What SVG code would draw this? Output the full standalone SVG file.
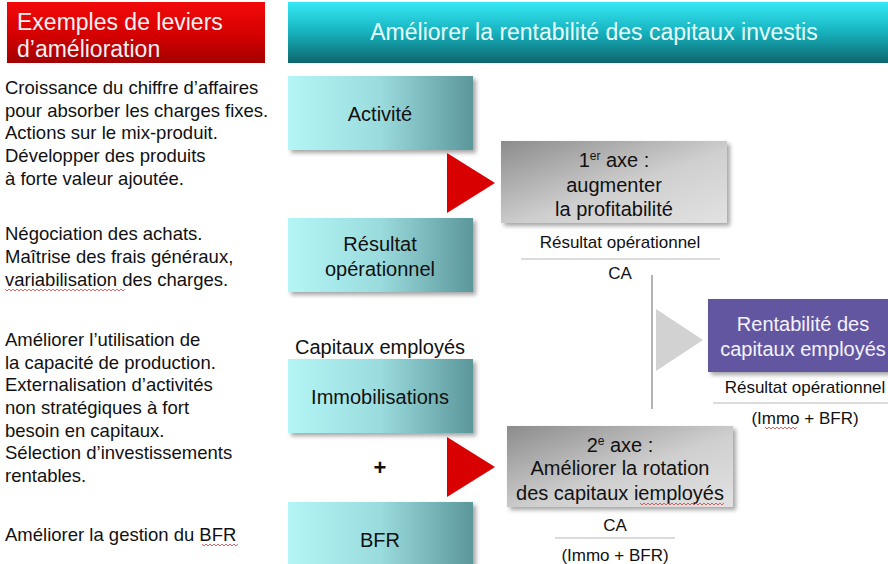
<svg xmlns="http://www.w3.org/2000/svg" width="888" height="564" viewBox="0 0 888 564">
<style>
text{font-family:"Liberation Sans",Arial,sans-serif;fill:#111}
.lv{font-size:18.5px}
.hd{font-size:23px;fill:#f2f2f2}
.hdt{font-size:23px;fill:#e6ffff}
.bx{font-size:20px;text-anchor:middle}
.sm{font-size:17px;text-anchor:middle}
.pw{font-size:20px;text-anchor:middle;fill:#f4f2ff}
.rule{stroke:#b8b8b8;stroke-width:1.2}
.wavy{fill:none;stroke:#d04040;stroke-width:0.8}
</style>
<defs>
<linearGradient id="gRed" x1="0" y1="0" x2="0" y2="1">
<stop offset="0" stop-color="#f20a0a"/><stop offset="0.55" stop-color="#d40000"/><stop offset="1" stop-color="#a30000"/>
</linearGradient>
<linearGradient id="gTealH" x1="0" y1="0" x2="0" y2="1">
<stop offset="0" stop-color="#35eaf6"/><stop offset="0.5" stop-color="#16b1bd"/><stop offset="1" stop-color="#0d666d"/>
</linearGradient>
<linearGradient id="gTeal" x1="0" y1="0" x2="1" y2="0">
<stop offset="0" stop-color="#b4f6f6"/><stop offset="0.5" stop-color="#9adbdd"/><stop offset="1" stop-color="#5b979b"/>
</linearGradient>
<linearGradient id="gGray" x1="0" y1="0" x2="1" y2="1">
<stop offset="0" stop-color="#8c8c8c"/><stop offset="0.55" stop-color="#cfcfcf"/><stop offset="1" stop-color="#e2e2e2"/>
</linearGradient>
<filter id="sh" x="-10%" y="-10%" width="125%" height="130%">
<feDropShadow dx="3" dy="3" stdDeviation="2" flood-color="#000" flood-opacity="0.35"/>
</filter>
</defs>

<g id="header-leviers">
<rect x="7" y="2" width="258" height="61" fill="url(#gRed)"/>
<text class="hd" x="17" y="30">Exemples de leviers</text>
<text class="hd" x="17" y="57">d’amélioration</text>
</g>

<g id="header-rentabilite">
<rect x="288" y="2" width="600" height="61" fill="url(#gTealH)"/>
<text class="hdt" x="594" y="40" text-anchor="middle">Améliorer la rentabilité des capitaux investis</text>
</g>

<g id="leviers-activite">
<text class="lv" x="5" y="94">Croissance du chiffre d’affaires</text>
<text class="lv" x="5" y="117">pour absorber les charges fixes.</text>
<text class="lv" x="5" y="139">Actions sur le mix-produit.</text>
<text class="lv" x="5" y="162">Développer des produits</text>
<text class="lv" x="5" y="185">à forte valeur ajoutée.</text>
</g>

<g id="leviers-resultat">
<text class="lv" x="5" y="240">Négociation des achats.</text>
<text class="lv" x="5" y="263">Maîtrise des frais généraux,</text>
<text class="lv" x="5" y="286">variabilisation des charges.</text>
<path class="wavy" d="M5 289 l2 2 l2 -2 l2 2 l2 -2 l2 2 l2 -2 l2 2 l2 -2 l2 2 l2 -2 l2 2 l2 -2 l2 2 l2 -2 l2 2 l2 -2 l2 2 l2 -2 l2 2 l2 -2 l2 2 l2 -2 l2 2 l2 -2 l2 2 l2 -2 l2 2 l2 -2 l2 2 l2 -2 l2 2 l2 -2 l2 2 l2 -2 l2 2 l2 -2 l2 2 l2 -2 l2 2 l2 -2 l2 2 l2 -2 l2 2 l2 -2 l2 2 l2 -2 l2 2 l2 -2 l2 2 l2 -2 l2 2 l2 -2 l2 2 l2 -2 l2 2 l2 -2 l2 2 l2 -2 l2 2 l2 -2"/>
</g>

<g id="leviers-capitaux">
<text class="lv" x="5" y="346">Améliorer l’utilisation de</text>
<text class="lv" x="5" y="369">la capacité de production.</text>
<text class="lv" x="5" y="391">Externalisation d’activités</text>
<text class="lv" x="5" y="414">non stratégiques à fort</text>
<text class="lv" x="5" y="437">besoin en capitaux.</text>
<text class="lv" x="5" y="459">Sélection d’investissements</text>
<text class="lv" x="5" y="482">rentables.</text>
</g>

<g id="leviers-bfr">
<text class="lv" x="5" y="541">Améliorer la gestion du BFR</text>
<path class="wavy" d="M202 544 l2 2 l2 -2 l2 2 l2 -2 l2 2 l2 -2 l2 2 l2 -2 l2 2 l2 -2 l2 2 l2 -2 l2 2 l2 -2 l2 2 l2 -2 l2 2 l2 -2"/>
</g>

<g id="node-activite">
<rect x="288" y="76" width="185" height="74" fill="url(#gTeal)" filter="url(#sh)"/>
<text class="bx" x="380" y="121">Activité</text>
</g>

<g id="node-resultat">
<rect x="288" y="218" width="185" height="74" fill="url(#gTeal)" filter="url(#sh)"/>
<text class="bx" x="380" y="251">Résultat</text>
<text class="bx" x="380" y="276">opérationnel</text>
</g>

<g id="label-capitaux">
<text class="bx" x="380" y="354">Capitaux employés</text>
</g>

<g id="node-immobilisations">
<rect x="288" y="359" width="185" height="74" fill="url(#gTeal)" filter="url(#sh)"/>
<text class="bx" x="380" y="404">Immobilisations</text>
</g>

<g id="label-plus">
<text x="380" y="475" font-size="22" font-weight="bold" text-anchor="middle">+</text>
</g>

<g id="node-bfr">
<rect x="288" y="502" width="185" height="74" fill="url(#gTeal)" filter="url(#sh)"/>
<text class="bx" x="380" y="547">BFR</text>
</g>

<g id="node-axe1">
<rect x="501" y="141" width="226" height="82" fill="url(#gGray)" filter="url(#sh)"/>
<text class="bx" x="614" y="167">1<tspan font-size="12" dy="-7">er</tspan><tspan dy="7"> axe :</tspan></text>
<text class="bx" x="614" y="192">augmenter</text>
<text class="bx" x="614" y="216">la profitabilité</text>
</g>

<g id="ratio-axe1">
<text class="sm" x="620" y="248">Résultat opérationnel</text>
<line class="rule" x1="521" y1="259" x2="720" y2="259"/>
<text class="sm" x="620" y="279">CA</text>
</g>

<g id="node-axe2">
<rect x="507" y="426" width="226" height="81" fill="url(#gGray)" filter="url(#sh)"/>
<text class="bx" x="620" y="452">2<tspan font-size="12" dy="-7">e</tspan><tspan dy="7"> axe :</tspan></text>
<text class="bx" x="620" y="475">Améliorer la rotation</text>
<text class="bx" x="620" y="500">des capitaux iemployés</text>
<path class="wavy" d="M640 503 l2 2 l2 -2 l2 2 l2 -2 l2 2 l2 -2 l2 2 l2 -2 l2 2 l2 -2 l2 2 l2 -2 l2 2 l2 -2 l2 2 l2 -2 l2 2 l2 -2 l2 2 l2 -2 l2 2 l2 -2 l2 2 l2 -2 l2 2 l2 -2 l2 2 l2 -2 l2 2 l2 -2 l2 2 l2 -2 l2 2 l2 -2 l2 2 l2 -2 l2 2 l2 -2 l2 2 l2 -2 l2 2 l2 -2"/>
</g>

<g id="ratio-axe2">
<text class="sm" x="615" y="531">CA</text>
<line class="rule" x1="555" y1="538" x2="675" y2="538"/>
<text class="sm" x="615" y="561">(Immo + BFR)</text>
</g>

<g id="node-rentabilite">
<rect x="708" y="299" width="185" height="73" fill="#6456a0" filter="url(#sh)"/>
<text class="pw" x="803" y="331">Rentabilité des</text>
<text class="pw" x="803" y="356">capitaux employés</text>
</g>

<g id="ratio-rentabilite">
<text class="sm" x="805" y="393">Résultat opérationnel</text>
<line class="rule" x1="713" y1="403" x2="888" y2="403"/>
<text class="sm" x="805" y="424">(Immo + BFR)</text>
<path class="wavy" d="M765 427 l2 2 l2 -2 l2 2 l2 -2 l2 2 l2 -2 l2 2 l2 -2 l2 2 l2 -2 l2 2 l2 -2 l2 2 l2 -2 l2 2 l2 -2"/>
</g>

<g id="connectors">
<polygon points="447,153 495,183 447,213" fill="#d80000"/>
<polygon points="447,437 495,467 447,497" fill="#d80000"/>
<line x1="652" y1="275" x2="652" y2="409" stroke="#b4b4b4" stroke-width="2"/>
<polygon points="656,309 703,340 656,371" fill="#d2d2d2"/>
</g>
</svg>
